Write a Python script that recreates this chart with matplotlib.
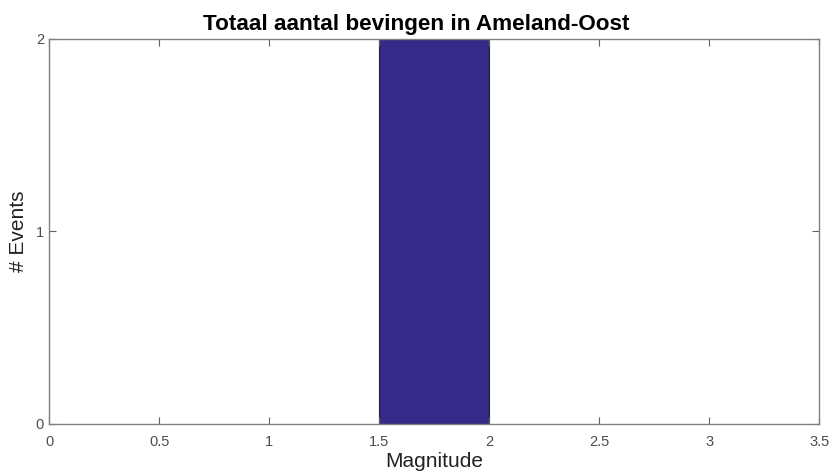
import matplotlib
matplotlib.use("Agg")
import matplotlib.pyplot as plt

plt.rcParams['font.family'] = ['Liberation Sans', 'DejaVu Sans']

# histogram data
bin_edges = [1.5, 2.0]
counts = [2]
x_ticks = [0, 0.5, 1, 1.5, 2, 2.5, 3, 3.5]
y_ticks = [0, 1, 2]

fig = plt.figure(figsize=(8.33, 4.73), dpi=100)
ax = fig.add_axes([0.0594, 0.1036, 0.924, 0.815])

lefts = bin_edges[:-1]
widths = [b - a for a, b in zip(bin_edges[:-1], bin_edges[1:])]
ax.bar(lefts, counts, width=widths, align='edge', color='#352a87',
       edgecolor='#222222', linewidth=0.8)

ax.set_xlim(0, 3.5)
ax.set_ylim(0, 2)
ax.set_xticks(x_ticks)
ax.set_xticklabels([f"{t:g}" for t in x_ticks])
ax.set_yticks(y_ticks)

gray = '#4d4d4d'
for s in ax.spines.values():
    s.set_color('#808080')
    s.set_linewidth(1.0)
ax.tick_params(direction='in', length=5, width=0.8, colors='#606060',
               labelcolor=gray, labelsize=10.5, top=True, right=True)
ax.tick_params(axis='x', pad=8)
ax.tick_params(axis='y', pad=4)

ax.set_xlabel('Magnitude', fontsize=15, color='#222222', labelpad=2)
ax.set_ylabel('# Events', fontsize=15, color='#222222')
ax.yaxis.set_label_coords(-0.028, 0.5)
# title is centred on the figure, not the axes
ax.set_title('Totaal aantal bevingen in Ameland-Oost', fontsize=16.2,
             fontweight='bold', pad=6, x=0.477)

fig.savefig('out.png', dpi=100)
